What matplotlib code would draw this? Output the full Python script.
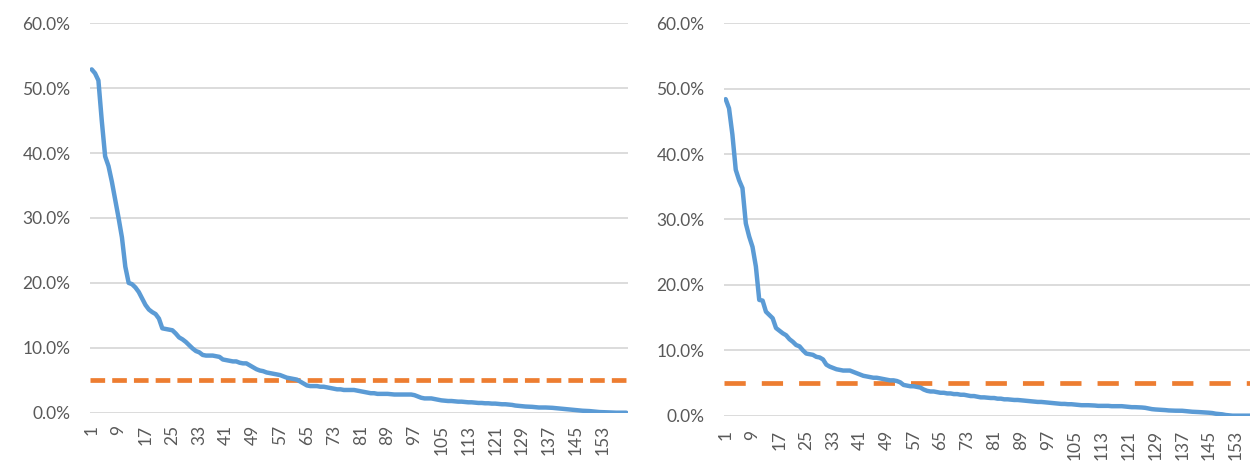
import matplotlib
matplotlib.use("Agg")
import matplotlib.pyplot as plt
from matplotlib.ticker import PercentFormatter

plt.rcParams['font.family'] = ['Lato', 'DejaVu Sans']

# share (%) per rank, left chart
left_values = [
    52.9, 52.3, 51.2, 45.0, 39.5, 38.0, 35.6, 32.8, 30.0, 27.0,
    22.5, 20.0, 19.8, 19.3, 18.6, 17.6, 16.6, 15.9, 15.5, 15.2,
    14.5, 13.0, 12.9, 12.8, 12.7, 12.2, 11.6, 11.3, 10.9, 10.4,
    9.9, 9.5, 9.3, 8.9, 8.8, 8.8, 8.8, 8.7, 8.6, 8.2,
    8.1, 8.0, 7.9, 7.9, 7.7, 7.6, 7.6, 7.3, 7.0, 6.7,
    6.5, 6.4, 6.2, 6.1, 6.0, 5.9, 5.8, 5.6, 5.4, 5.3,
    5.2, 5.1, 4.8, 4.5, 4.2, 4.1, 4.1, 4.1, 4.0, 4.0,
    3.9, 3.8, 3.7, 3.6, 3.6, 3.5, 3.5, 3.5, 3.5, 3.4,
    3.3, 3.2, 3.1, 3.0, 3.0, 2.9, 2.9, 2.9, 2.9, 2.85,
    2.8, 2.8, 2.8, 2.8, 2.8, 2.8, 2.7, 2.5, 2.3, 2.2,
    2.2, 2.2, 2.1, 2.0, 1.9, 1.85, 1.8, 1.8, 1.75, 1.7,
    1.7, 1.65, 1.6, 1.6, 1.55, 1.5, 1.5, 1.45, 1.45, 1.4,
    1.4, 1.35, 1.3, 1.3, 1.25, 1.2, 1.1, 1.05, 1.0, 0.95,
    0.93, 0.9, 0.85, 0.8, 0.8, 0.8, 0.78, 0.75, 0.7, 0.65,
    0.6, 0.55, 0.5, 0.45, 0.4, 0.35, 0.3, 0.28, 0.25, 0.2,
    0.15, 0.1, 0.08, 0.05, 0.03, 0.02, 0.0, 0.0, 0.0, 0.0,
]

# share (%) per rank, right chart
right_values = [
    48.4, 47.0, 43.0, 37.6, 36.0, 34.8, 29.4, 27.4, 25.8, 22.8,
    17.7, 17.6, 15.9, 15.4, 14.9, 13.4, 13.0, 12.6, 12.3, 11.7,
    11.3, 10.8, 10.6, 10.0, 9.5, 9.4, 9.3, 9.0, 8.9, 8.6,
    7.8, 7.5, 7.3, 7.1, 7.0, 6.9, 6.9, 6.9, 6.7, 6.5,
    6.3, 6.1, 6.0, 5.9, 5.8, 5.8, 5.7, 5.6, 5.5, 5.4,
    5.4, 5.3, 5.1, 4.7, 4.6, 4.5, 4.5, 4.4, 4.3, 4.0,
    3.8, 3.7, 3.7, 3.6, 3.5, 3.5, 3.4, 3.4, 3.3, 3.3,
    3.2, 3.2, 3.1, 3.0, 3.0, 2.9, 2.8, 2.8, 2.75, 2.7,
    2.7, 2.6, 2.6, 2.5, 2.5, 2.45, 2.4, 2.4, 2.35, 2.3,
    2.25, 2.2, 2.15, 2.1, 2.1, 2.05, 2.0, 1.95, 1.9, 1.85,
    1.8, 1.8, 1.75, 1.75, 1.7, 1.65, 1.6, 1.6, 1.6, 1.58,
    1.55, 1.5, 1.5, 1.5, 1.5, 1.45, 1.45, 1.45, 1.45, 1.4,
    1.35, 1.3, 1.3, 1.28, 1.25, 1.2, 1.1, 1.0, 0.95, 0.92,
    0.9, 0.85, 0.8, 0.78, 0.76, 0.76, 0.75, 0.7, 0.65, 0.6,
    0.58, 0.55, 0.52, 0.5, 0.45, 0.4, 0.3, 0.25, 0.2, 0.1,
    0.05, 0.0, 0.0, 0.0, 0.0, 0.0, 0.0, 0.0, 0.0, 0.0,
]

threshold = 5.0
tick_labels = [str(i) for i in range(1, 154, 8)]

BLUE = "#5B9BD5"
ORANGE = "#ED7D31"
GRID = "#D9D9D9"
TEXT = "#595959"

fig = plt.figure(figsize=(12.5, 4.66), dpi=100)


def draw(ax, values, dashes, xpad):
    n = len(values)
    ranks = list(range(1, n + 1))
    ax.plot(ranks, values, color=BLUE, lw=3.2, solid_joinstyle="round",
            solid_capstyle="round", zorder=3)
    ax.plot([0.5, n + 0.5], [threshold, threshold], color=ORANGE, lw=3.4,
            dashes=dashes, dash_capstyle="butt", zorder=2)
    ax.set_xlim(0.5, n + 0.5)
    ax.set_ylim(0, 60)
    ax.set_yticks(range(0, 61, 10))
    ax.yaxis.set_major_formatter(PercentFormatter(decimals=1))
    ax.set_xticks([int(t) for t in tick_labels])
    ax.set_xticklabels(tick_labels, rotation=90)
    ax.grid(axis="y", color=GRID, lw=1.3)
    ax.set_axisbelow(True)
    for s in ax.spines.values():
        s.set_visible(False)
    ax.tick_params(axis="both", length=0, colors=TEXT, labelsize=12.5)
    ax.tick_params(axis="y", pad=14)
    ax.tick_params(axis="x", pad=xpad)


ax1 = fig.add_axes([0.072, 0.1144, 0.4304, 0.8356])
draw(ax1, left_values, (3.1, 1.5), 9)

ax2 = fig.add_axes([0.5792, 0.108, 0.4296, 0.842])
draw(ax2, right_values, (4.5, 3.4), 10)

fig.savefig("out.png", dpi=100)
